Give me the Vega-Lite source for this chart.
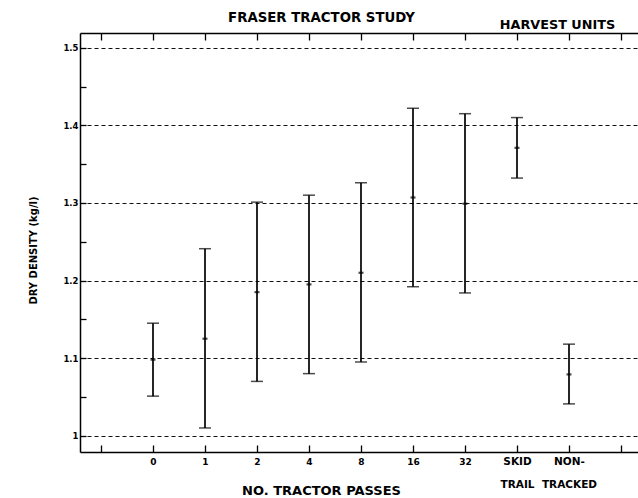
{
  "$schema": "https://vega.github.io/schema/vega-lite/v6.json",
  "width": 558,
  "height": 419,
  "autosize": "none",
  "padding": {"left": 80, "top": 33, "right": 0, "bottom": 46},
  "background": "white",
  "config": {
    "view": {"stroke": null},
    "font": "DejaVu Sans",
    "axis": {
      "domainColor": "black",
      "domainWidth": 1.5,
      "tickColor": "black",
      "tickWidth": 1.3,
      "labelColor": "black",
      "titleColor": "black",
      "labelFont": "DejaVu Sans",
      "titleFont": "DejaVu Sans",
      "labelFontWeight": "bold",
      "titleFontWeight": "bold"
    },
    "axisY": {
      "orient": "left",
      "values": [1, 1.02, 1.04, 1.06, 1.08, 1.1, 1.12, 1.14, 1.16, 1.18, 1.2, 1.22, 1.24, 1.26, 1.28, 1.3, 1.32, 1.34, 1.36, 1.38, 1.4, 1.42, 1.44, 1.46, 1.48, 1.5],
      "tickSize": -6,
      "labelPadding": 8,
      "labelFontSize": 8.5,
      "labelExpr": "abs(datum.value * 10 - round(datum.value * 10)) < 0.001 ? format(datum.value, '.1~f') : ''",
      "grid": true,
      "gridColor": "#111",
      "gridWidth": 1,
      "gridDash": [4, 3],
      "gridOpacity": {"condition": {"test": "abs(datum.value * 10 - round(datum.value * 10)) > 0.001", "value": 0}, "value": 1},
      "titleFontSize": 10,
      "titleX": -47,
      "titleY": 217,
      "titleAngle": -90,
      "titleAlign": "center",
      "titleBaseline": "middle"
    }
  },
  "data": {
    "values": [
      {"passes": "0", "mean": 1.098, "lo": 1.051, "hi": 1.145},
      {"passes": "1", "mean": 1.125, "lo": 1.010, "hi": 1.241},
      {"passes": "2", "mean": 1.185, "lo": 1.070, "hi": 1.301},
      {"passes": "4", "mean": 1.195, "lo": 1.080, "hi": 1.310},
      {"passes": "8", "mean": 1.210, "lo": 1.095, "hi": 1.326},
      {"passes": "16", "mean": 1.307, "lo": 1.192, "hi": 1.422},
      {"passes": "32", "mean": 1.299, "lo": 1.184, "hi": 1.415},
      {"passes": "SKID TRAIL", "mean": 1.371, "lo": 1.332, "hi": 1.410},
      {"passes": "NON-TRACKED", "mean": 1.079, "lo": 1.041, "hi": 1.118}
    ]
  },
  "layer": [
    {
      "mark": {"type": "rule", "color": "black", "strokeWidth": 1.7},
      "encoding": {
        "x": {
          "field": "passes",
          "type": "nominal",
          "scale": {
            "type": "point",
            "domain": ["a", "0", "1", "2", "4", "8", "16", "32", "SKID TRAIL", "NON-TRACKED", "b"],
            "padding": 0.3654,
            "align": 0.5526
          },
          "axis": {
            "orient": "bottom",
            "values": ["a", "0", "1", "2", "4", "8", "16", "32", "SKID TRAIL", "NON-TRACKED", "b"],
            "tickSize": -7,
            "labelAngle": 0,
            "labelPadding": 19,
            "labelBaseline": "alphabetic",
            "labelLineHeight": 23,
            "labelOverlap": false,
            "labelFontSize": {"condition": {"test": "length(datum.value) > 3", "value": 10.5}, "value": 9},
            "labelExpr": "datum.value == 'a' || datum.value == 'b' ? '' : datum.value == 'SKID TRAIL' ? ['SKID', 'TRAIL'] : datum.value == 'NON-TRACKED' ? ['NON-', 'TRACKED'] : datum.value",
            "title": "NO. TRACTOR PASSES",
            "titleFontSize": 13,
            "titleX": 241,
            "titleY": 42,
            "titleAlign": "center",
            "titleBaseline": "alphabetic"
          }
        },
        "y": {
          "field": "lo",
          "type": "quantitative",
          "scale": {"domain": [0.979, 1.519], "nice": false, "zero": false},
          "axis": {"title": "DRY DENSITY (kg/l)"}
        },
        "y2": {"field": "hi"}
      }
    },
    {
      "mark": {"type": "tick", "color": "black", "size": 12, "thickness": 1.5, "orient": "horizontal"},
      "encoding": {
        "x": {
          "field": "passes",
          "type": "nominal",
          "axis": {
            "orient": "top",
            "values": ["a", "0", "1", "2", "4", "8", "16", "32", "SKID TRAIL", "NON-TRACKED", "b"],
            "tickSize": -7,
            "labelAngle": 0,
            "labelPadding": 16,
            "labelBaseline": "middle",
            "labelOffset": 40,
            "labelFontSize": 12.8,
            "labelOverlap": false,
            "labelExpr": "datum.value == 'SKID TRAIL' ? 'HARVEST UNITS' : ''",
            "title": "FRASER TRACTOR STUDY",
            "titleFontSize": 13.3,
            "titleX": 241,
            "titleY": -16,
            "titleAlign": "center",
            "titleBaseline": "middle"
          }
        },
        "y": {"field": "hi", "type": "quantitative", "axis": {"title": "DRY DENSITY (kg/l)"}}
      }
    },
    {
      "mark": {"type": "tick", "color": "black", "size": 12, "thickness": 1.5, "orient": "horizontal"},
      "encoding": {
        "x": {"field": "passes", "type": "nominal", "axis": null},
        "y": {"field": "lo", "type": "quantitative", "axis": {"title": "DRY DENSITY (kg/l)"}}
      }
    },
    {
      "mark": {"type": "tick", "color": "black", "size": 5, "thickness": 2.2, "orient": "horizontal"},
      "encoding": {
        "x": {"field": "passes", "type": "nominal", "axis": null},
        "y": {"field": "mean", "type": "quantitative", "axis": {"title": "DRY DENSITY (kg/l)"}}
      }
    }
  ]
}
